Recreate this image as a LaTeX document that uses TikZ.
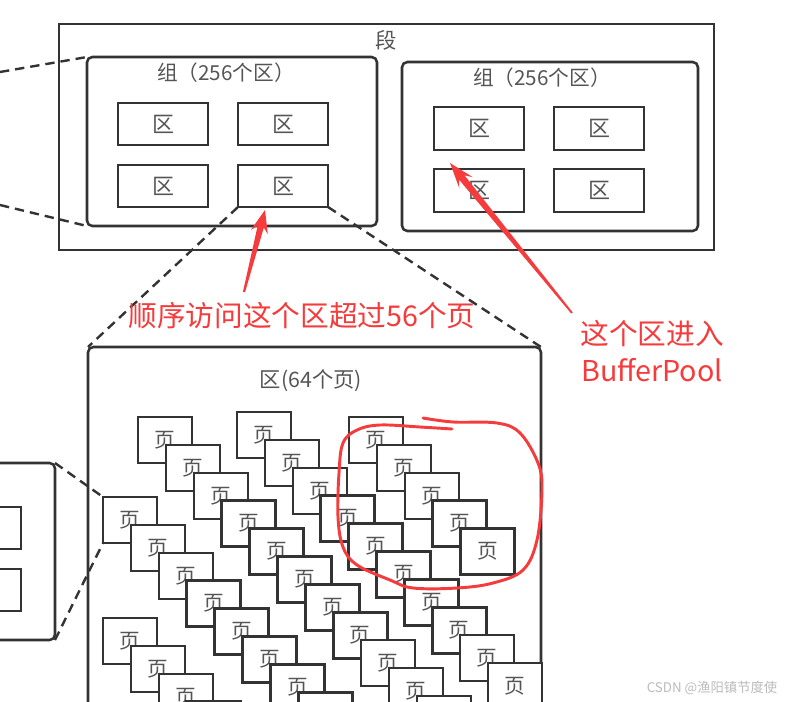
\documentclass[tikz,border=0pt]{standalone}
\usepackage{fontspec}
\setmainfont{Noto Sans CJK SC}
\usetikzlibrary{calc}
\definecolor{ln}{HTML}{333333}
\definecolor{tx}{HTML}{555555}
\definecolor{rd}{HTML}{F53B3B}
\definecolor{wm}{HTML}{BBBBBB}
\begin{document}
\begin{tikzpicture}[x=0.75pt,y=-0.75pt,
  box/.style={draw=ln, line width=1.9pt, fill=white, inner sep=0pt, outer sep=0pt, text=tx, anchor=north west},
  grp/.style={box, rounded corners=4pt},
  qbox/.style={box, minimum width=90*0.75pt, minimum height=42*0.75pt, font=\fontsize{16.5}{18}\selectfont},
  pg/.style={box, minimum width=54*0.75pt, minimum height=46*0.75pt, font=\fontsize{15.5}{17}\selectfont},
  lbl/.style={text=tx, inner sep=0pt, font=\fontsize{15.5}{18}\selectfont},
  dashln/.style={draw=ln, line width=1.8pt, dash pattern=on 7pt off 4.5pt},
  redtxt/.style={text=rd, inner sep=0pt, font=\fontsize{21.5}{24}\selectfont}
]
\useasboundingbox (0,0) rectangle (792,701);
\clip (0,0) rectangle (792,701);

% segment
\node[box, minimum width=655*0.75pt, minimum height=226*0.75pt] (seg) at (59,24) {};
\node[lbl, font=\fontsize{16}{18}\selectfont] (segl) at (386,40) {段};

% group 1
\node[grp, minimum width=290*0.75pt, minimum height=169*0.75pt] (g1) at (87,57) {};
\node[lbl] (g1l) at (226,73) {组（256个区）};
\node[qbox] (q1) at (118,103) {区};
\node[qbox] (q2) at (238,103) {区};
\node[qbox] (q3) at (118,165) {区};
\node[qbox] (q4) at (238,165) {区};

% group 2
\node[grp, minimum width=296*0.75pt, minimum height=169*0.75pt] (g2) at (402,62) {};
\node[lbl] (g2l) at (542,78) {组（256个区）};
\node[qbox, minimum height=43*0.75pt] (r1) at (434,107) {区};
\node[qbox, minimum height=43*0.75pt] (r2) at (554,107) {区};
\node[qbox, minimum height=43*0.75pt] (r3) at (434,169) {区};
\node[qbox, minimum height=43*0.75pt] (r4) at (554,169) {区};

% extent frame (64 pages)
\node[grp, minimum width=453*0.75pt, minimum height=420*0.75pt] (frame) at (88,347) {};
\node[lbl, font=\fontsize{16}{18}\selectfont] (framel) at (311,381) {区(64个页)};

% pages
\foreach \c/\x/\y/\n in {A/138/417/10, B/237/412/9, C/349/417/4, D/103/497/7, E/103/618/3} {
  \foreach \k in {0,...,\n} {
    \node[pg] (p\c\k) at ({\x+27.9*\k},{\y+27.9*\k}) {页};
  }
}

% left partial box
\node[grp, anchor=north east, minimum width=100*0.75pt, minimum height=177*0.75pt] (lft) at (55,463) {};
\node[box, anchor=north east, minimum width=60*0.75pt, minimum height=42*0.75pt] (lb1) at (21,507) {};
\node[box, anchor=north east, minimum width=60*0.75pt, minimum height=42*0.75pt] (lb2) at (21,569) {};

% dashed connectors
\coordinate (o1) at (0,72);
\coordinate (o2) at (0,205);
\draw[dashln] (o1) -- (g1.north west);
\draw[dashln] (o2) -- (g1.south west);
\draw[dashln] (q4.south west) -- (frame.north west);
\draw[dashln] (q4.south east) -- (frame.north east);
\draw[dashln] (lft.north east) -- (pD0.north west);
\draw[dashln] (lft.south east) -- (pD0.south west);

% red annotations
\node[redtxt] (t1) at (302,316) {顺序访问这个区超过56个页};
\node[redtxt] (t2) at (652,333) {这个区进入};
\node[redtxt] (t3) at (652,370) {BufferPool};

% red arrow 1
\coordinate (a1t) at (244,292);
\coordinate (a1h) at (265,210);
\coordinate (a1s) at ($(a1h)!13pt!(a1t)$);
\coordinate (a1b) at ($(a1h)!17pt!(a1t)$);
\fill[rd] ($(a1t)!0.8pt!90:(a1h)$) -- ($(a1s)!2.4pt!90:(a1h)$) -- ($(a1b)!6.5pt!90:(a1h)$) -- (a1h)
  -- ($(a1b)!6.5pt!-90:(a1h)$) -- ($(a1s)!2.4pt!-90:(a1h)$) -- ($(a1t)!0.8pt!-90:(a1h)$) -- cycle;

% red arrow 2
\coordinate (a2t) at (572,313);
\coordinate (a2h) at (450,163);
\coordinate (a2s) at ($(a2h)!14pt!(a2t)$);
\coordinate (a2b) at ($(a2h)!19pt!(a2t)$);
\fill[rd] ($(a2t)!0.7pt!90:(a2h)$) -- ($(a2s)!2.6pt!90:(a2h)$) -- ($(a2b)!6.5pt!90:(a2h)$) -- (a2h)
  -- ($(a2b)!6.5pt!-90:(a2h)$) -- ($(a2s)!2.6pt!-90:(a2h)$) -- ($(a2t)!0.7pt!-90:(a2h)$) -- cycle;

% hand-drawn red loop
\draw[rd, line width=2.2pt, line cap=round, line join=round]
  plot[smooth, tension=0.6] coordinates {
    (423,418) (453,422) (497,423) (520,433) (538,463) (542,490) (537,540) (523,570)
    (493,583) (457,588) (413,588) (390,580) (357,565) (343,547) (338,517) (339,473)
    (343,443) (357,430) (380,425) (420,427) (452,429)};

% watermark
\node[text=wm, inner sep=0pt, font=\fontsize{10}{12}\selectfont] (wmk) at (712,688) {CSDN @渔阳镇节度使};
\end{tikzpicture}
\end{document}
